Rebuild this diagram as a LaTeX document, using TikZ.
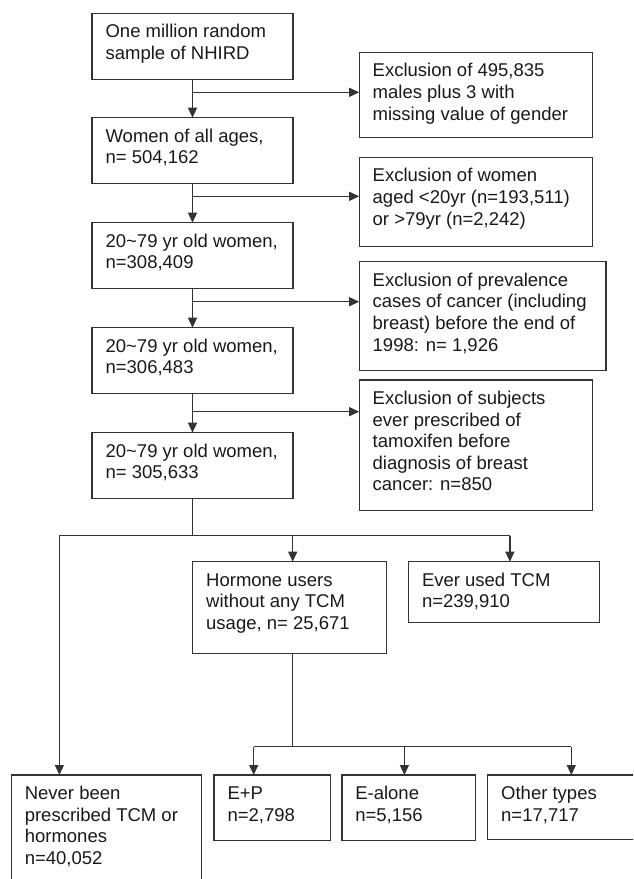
\documentclass[tikz,border=0pt]{standalone}
\usepackage{fontspec}
\setmainfont{Liberation Sans}
\usetikzlibrary{arrows.meta}
\tikzset{
  boxst/.style={draw=black!80, line width=1.4pt, inner sep=0pt, outer sep=0pt, anchor=north west},
  txtst/.style={anchor=north west, inner sep=0pt, outer sep=0pt, align=left, font=\fontsize{18.5}{21.6}\selectfont, text=black!90},
  conn/.style={draw=black!80, line width=1.2pt},
  arr/.style={conn, -{Triangle[length=10pt,width=9pt]}},
}
\newcommand\flowbox[6]{%
  \node[boxst, minimum width={#4pt-#2pt}, minimum height={#5pt-#3pt}] (#1) at (#2,#3) {};
  \node[txtst] (#1t) at ([xshift=13.5pt,yshift=-9.4pt]#1.north west) {\strut #6};
}
\begin{document}
\begin{tikzpicture}[x=1pt,y=-1pt]
\clip (0,0) rectangle (633,879);
% main column
\flowbox{A}{92.1}{13.3}{292.9}{79.3}{One million random\\sample of NHIRD}
\flowbox{B}{92.1}{117.7}{292.9}{183.3}{Women of all ages,\\n= 504,162}
\flowbox{C}{92.1}{222.7}{292.9}{288.7}{20\textasciitilde79 yr old women,\\n=308,409}
\flowbox{D}{92.1}{327.7}{292.9}{393.7}{20\textasciitilde79 yr old women,\\n=306,483}
\flowbox{E}{92.1}{432.7}{292.9}{498.3}{20\textasciitilde79 yr old women,\\n= 305,633}
% exclusion boxes
\flowbox{X1}{359.2}{52.3}{592.7}{137.7}{Exclusion of 495,835\\males plus 3 with\\missing value of gender}
\flowbox{X2}{359.2}{157.3}{592.7}{246.7}{Exclusion of women\\aged <20yr (n=193,511)\\or >79yr (n=2,242)}
\flowbox{X3}{359.2}{261.7}{606.0}{370.7}{Exclusion of prevalence\\cases of cancer (including\\breast) before the end of\\1998: n= 1,926}
\flowbox{X4}{359.2}{380.0}{592.7}{510.7}{Exclusion of subjects\\ever prescribed of\\tamoxifen before\\diagnosis of breast\\cancer: n=850}
% second level
\flowbox{H}{192.7}{561.7}{386.7}{653.3}{Hormone users\\without any TCM\\usage, n= 25,671}
\flowbox{T}{408.5}{561.7}{599.6}{622.3}{Ever used TCM\\n=239,910}
% bottom row
\flowbox{N}{11.3}{775.0}{201.2}{892.0}{Never been\\prescribed TCM or\\hormones\\n=40,052}
\flowbox{P}{214.1}{775.0}{330.5}{840.3}{E+P\\n=2,798}
\flowbox{L}{341.8}{775.0}{475.2}{840.3}{E-alone\\n=5,156}
\flowbox{O}{487.7}{775.0}{645.0}{839.3}{Other types\\n=17,717}
% main arrows
\draw[arr] (A.south) -- (B.north);
\draw[arr] (B.south) -- (C.north);
\draw[arr] (C.south) -- (D.north);
\draw[arr] (D.south) -- (E.north);
% exclusion arrows
\coordinate (j1) at (192.5,92.3);
\coordinate (j2) at (192.5,196.3);
\coordinate (j3) at (192.5,301.7);
\coordinate (j4) at (192.5,411.7);
\draw[arr] (j1) -- (j1 -| X1.west);
\draw[arr] (j2) -- (j2 -| X2.west);
\draw[arr] (j3) -- (j3 -| X3.west);
\draw[arr] (j4) -- (j4 -| X4.west);
% first branching
\coordinate (kE) at (192.5,535.7);
\coordinate (kN) at (59.4,535.7);
\coordinate (kH) at (292.7,535.7);
\coordinate (kT) at (509.9,535.7);
\draw[conn] (E.south) -- (kE);
\draw[conn] (kN) -- (kT);
\draw[arr] (kN) -- (kN |- N.north);
\draw[arr] (kH) -- (kH |- H.north);
\draw[arr] (kT) -- (kT |- T.north);
% second branching
\coordinate (m0) at (292.7,746.7);
\coordinate (mP) at (253.7,746.7);
\coordinate (mL) at (404.4,746.7);
\coordinate (mO) at (571.3,746.7);
\draw[conn] (m0 |- H.south) -- (m0);
\draw[conn] (mP) -- (mO);
\draw[arr] (mP) -- (mP |- P.north);
\draw[arr] (mL) -- (mL |- L.north);
\draw[arr] (mO) -- (mO |- O.north);
\end{tikzpicture}
\end{document}
